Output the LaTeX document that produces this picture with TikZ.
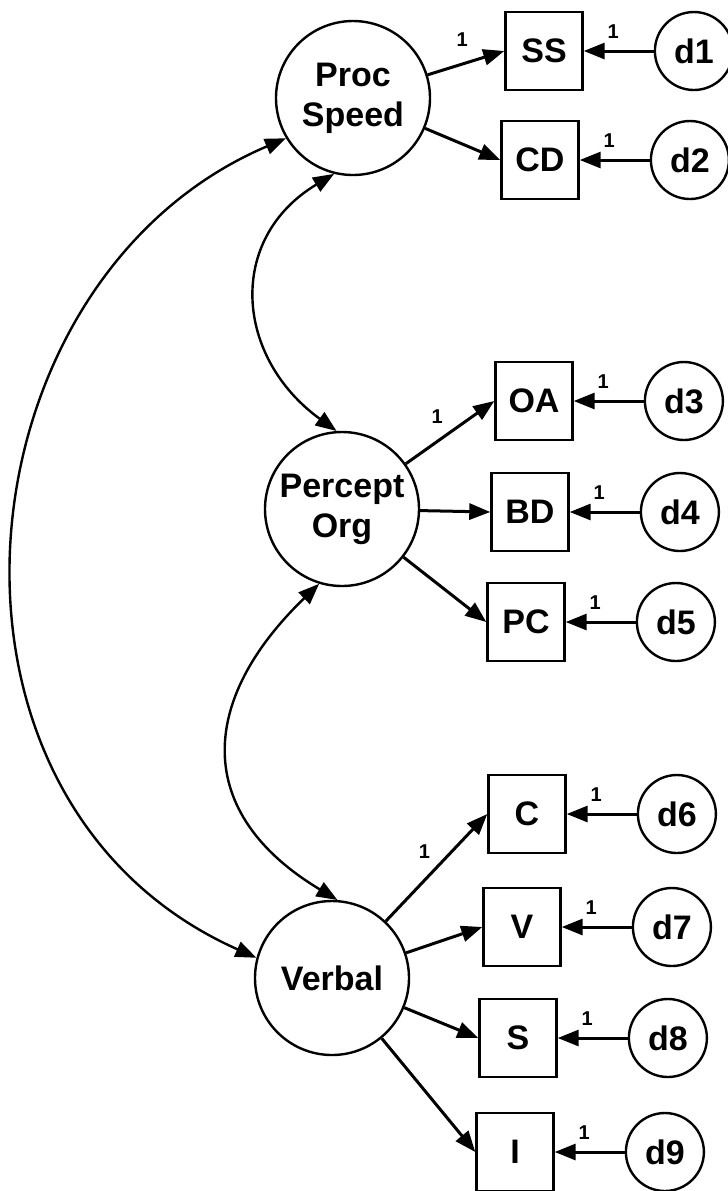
\documentclass[tikz,border=0pt]{standalone}
\usepackage{fontspec}
\setmainfont{Liberation Sans}
\usetikzlibrary{positioning,arrows.meta}

\begin{document}
\begin{tikzpicture}[
    x=0.5pt, y=0.5pt,
    font=\fontsize{17}{20}\selectfont\bfseries,
    factor/.style={
        draw,
        circle,
        line width=1.2pt,
        minimum size=77pt,
        inner sep=0pt,
        align=center
    },
    subtest/.style={
        draw,
        rectangle,
        line width=1.2pt,
        minimum width=38.5pt,
        minimum height=39pt,
        inner sep=0pt
    },
    residual/.style={
        draw,
        circle,
        line width=1.2pt,
        minimum size=39pt,
        inner sep=0pt
    },
    loading/.style={
        -{Triangle[length=10.5pt,width=8pt]},
        line width=1.5pt
    },
    covar/.style={
        {Triangle[length=10.5pt,width=8pt]}-{Triangle[length=10.5pt,width=8pt]},
        line width=1.2pt
    },
    fixed/.style={
        font=\fontsize{10}{11}\selectfont\bfseries,
        inner sep=1.5pt
    }
]
\useasboundingbox (0,0) rectangle (728,-1191);

% Factors
\node[factor] (speed) at (353,-98) {Proc\\Speed};
\node[factor] (percept) at (342,-509) {Percept\\Org};
\node[factor] (verbal) at (332,-978) {Verbal};

% Subtests
\node[subtest] (ss) at (544,-51) {SS};
\node[subtest] (cd) at (540,-160) {CD};
\node[subtest] (oa) at (534,-401) {OA};
\node[subtest] (bd) at (530,-512) {BD};
\node[subtest] (pc) at (526,-622) {PC};
\node[subtest] (c) at (527,-814) {C};
\node[subtest] (v) at (522,-927) {V};
\node[subtest] (s) at (518,-1038) {S};
\node[subtest] (i) at (515,-1152) {I};

% Residuals
\node[residual, right=35pt of ss] (d1) {d1};
\node[residual, right=35pt of cd] (d2) {d2};
\node[residual, right=35pt of oa] (d3) {d3};
\node[residual, right=35pt of bd] (d4) {d4};
\node[residual, right=35pt of pc] (d5) {d5};
\node[residual, right=35pt of c] (d6) {d6};
\node[residual, right=35pt of v] (d7) {d7};
\node[residual, right=35pt of s] (d8) {d8};
\node[residual, right=35pt of i] (d9) {d9};

% Factor loadings
\draw[loading] (speed) -- (ss.west) node[fixed, pos=0.45, above=6.5pt] {1};
\draw[loading] (speed) -- (cd.west);
\draw[loading] (percept) -- (oa.west) node[fixed, pos=0.49, above left=2.5pt and 1pt] {1};
\draw[loading] (percept) -- (bd.west);
\draw[loading] (percept) -- (pc.west);
\draw[loading] (verbal) -- (c.west) node[fixed, pos=0.52, above left=1pt and 2pt] {1};
\draw[loading] (verbal) -- (v.west);
\draw[loading] (verbal) -- (s.west);
\draw[loading] (verbal) -- (i.west);

% Residual paths
\draw[loading] (d1) -- (ss) node[fixed, pos=0.58, above=4pt] {1};
\draw[loading] (d2) -- (cd) node[fixed, pos=0.58, above=4pt] {1};
\draw[loading] (d3) -- (oa) node[fixed, pos=0.58, above=4pt] {1};
\draw[loading] (d4) -- (bd) node[fixed, pos=0.58, above=4pt] {1};
\draw[loading] (d5) -- (pc) node[fixed, pos=0.58, above=4pt] {1};
\draw[loading] (d6) -- (c) node[fixed, pos=0.58, above=4pt] {1};
\draw[loading] (d7) -- (v) node[fixed, pos=0.58, above=4pt] {1};
\draw[loading] (d8) -- (s) node[fixed, pos=0.58, above=4pt] {1};
\draw[loading] (d9) -- (i) node[fixed, pos=0.58, above=4pt] {1};

% Factor covariances
\draw[covar] (speed.211) .. controls +(203:360) and +(156:385) .. (verbal.165);
\draw[covar] (speed.256) to[out=211, in=144, looseness=1.25] (percept.94);
\draw[covar] (percept.253) to[out=224, in=149, looseness=1.36] (verbal.86);

\end{tikzpicture}
\end{document}
